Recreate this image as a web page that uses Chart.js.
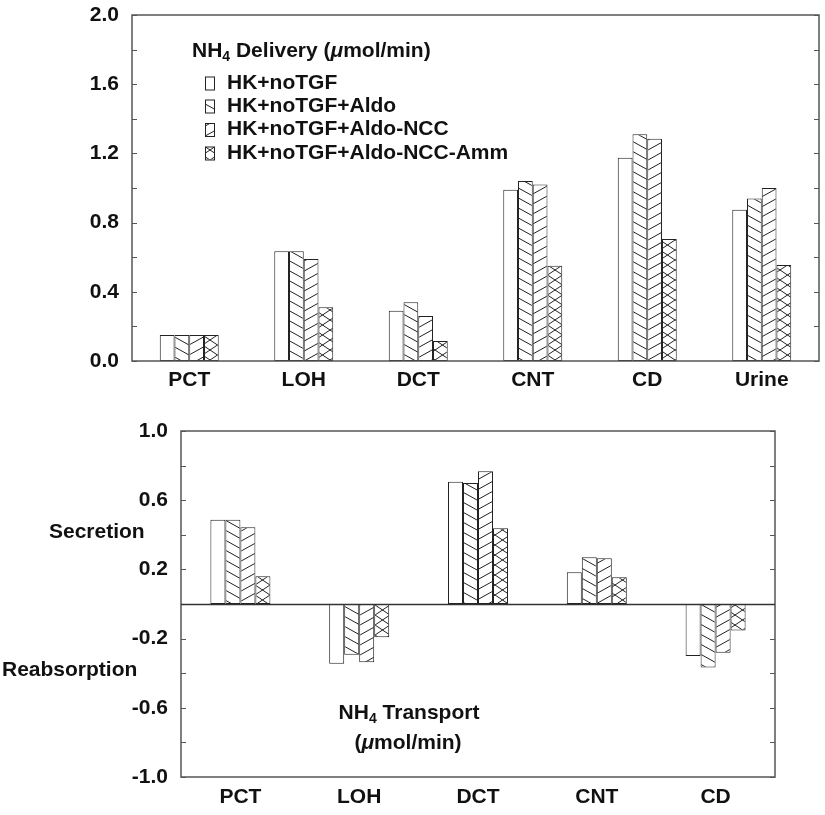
<!DOCTYPE html>
<html>
<head>
<meta charset="utf-8">
<script src="https://cdn.jsdelivr.net/npm/chart.js@4"></script>
<style>
  body { margin: 0; background: #fff; }
  #wrap { position: relative; width: 825px; height: 815px; }
  #top { position: absolute; left: 0; top: 0; }
  #bot { position: absolute; left: 0; top: 415px; }
</style>
</head>
<body>
<div id="wrap">
  <canvas id="top" width="825" height="410"></canvas>
  <canvas id="bot" width="825" height="400"></canvas>
</div>
<script>
// series names (legend)
const seriesNames = ['HK+noTGF', 'HK+noTGF+Aldo', 'HK+noTGF+Aldo-NCC', 'HK+noTGF+Aldo-NCC-Amm'];

// top panel: NH4 delivery (umol/min)
const deliveryCats = ['PCT', 'LOH', 'DCT', 'CNT', 'CD', 'Urine'];
const deliveryNoTGF   = [0.15, 0.635, 0.29, 0.99, 1.175, 0.875];
const deliveryAldo    = [0.15, 0.635, 0.34, 1.04, 1.31, 0.94];
const deliveryAldoNCC = [0.15, 0.59, 0.26, 1.02, 1.285, 1.00];
const deliveryAmm     = [0.15, 0.31, 0.115, 0.55, 0.705, 0.555];

// bottom panel: NH4 transport (umol/min), + = secretion, - = reabsorption
const transportCats = ['PCT', 'LOH', 'DCT', 'CNT', 'CD'];
const transportNoTGF   = [0.487, -0.346, 0.706, 0.184, -0.30];
const transportAldo    = [0.487, -0.294, 0.70, 0.27, -0.367];
const transportAldoNCC = [0.444, -0.336, 0.768, 0.265, -0.282];
const transportAmm     = [0.16, -0.192, 0.438, 0.155, -0.153];

const FONT = '"Liberation Sans", Arial, Helvetica, sans-serif';
const INK = '#111';
const FRAME = '#555';

Chart.defaults.font.family = FONT;
Chart.defaults.font.weight = 'bold';
Chart.defaults.font.size = 21;
Chart.defaults.color = INK;

// hatch fills like the old b/w plot
function hatch(ctx, w, h, back, fwd) {
  const c = document.createElement('canvas');
  c.width = w; c.height = h;
  const g = c.getContext('2d');
  g.fillStyle = '#fff';
  g.fillRect(0, 0, w, h);
  g.strokeStyle = '#222';
  g.lineWidth = 1;
  for (let k = -1; k <= 1; k++) {
    if (back) { g.beginPath(); g.moveTo(0, k * h); g.lineTo(w, h + k * h); g.stroke(); }
    if (fwd)  { g.beginPath(); g.moveTo(0, h + k * h); g.lineTo(w, k * h); g.stroke(); }
  }
  return ctx.createPattern(c, 'repeat');
}

function fills(ctx) {
  return ['#fff', hatch(ctx, 18, 10, true, false), hatch(ctx, 18, 10, false, true), hatch(ctx, 15, 10, true, true)];
}

function makeDatasets(ctx, arrays) {
  const f = fills(ctx);
  return arrays.map((d, i) => ({
    label: seriesNames[i],
    data: d,
    backgroundColor: f[i],
    borderColor: '#222',
    borderWidth: 1,
    borderSkipped: false
  }));
}

// text with subscript / italic parts
function richWidth(ctx, parts, size) {
  let w = 0;
  parts.forEach(p => {
    const s = p.sub ? Math.round(size * 0.68) : size;
    ctx.font = (p.italic ? 'italic ' : '') + 'bold ' + s + 'px ' + FONT;
    w += ctx.measureText(p.t).width;
  });
  return w;
}
function richText(ctx, x, y, parts, size, align) {
  let cx = align === 'center' ? x - richWidth(ctx, parts, size) / 2 : x;
  ctx.textAlign = 'left';
  ctx.textBaseline = 'middle';
  ctx.fillStyle = INK;
  parts.forEach(p => {
    const s = p.sub ? Math.round(size * 0.68) : size;
    ctx.font = (p.italic ? 'italic ' : '') + 'bold ' + s + 'px ' + FONT;
    ctx.fillText(p.t, cx, y + (p.sub ? size * 0.3 : 0));
    cx += ctx.measureText(p.t).width;
  });
}

// box around the plot, small inward ticks on both sides, zero line
const framePlugin = {
  id: 'frame',
  afterDatasetsDraw(chart) {
    const { ctx, chartArea: a, scales: { y } } = chart;
    ctx.save();
    ctx.strokeStyle = FRAME;
    ctx.lineWidth = 1.5;
    ctx.strokeRect(a.left, a.top, a.right - a.left, a.bottom - a.top);
    ctx.lineWidth = 1;
    y.ticks.forEach(t => {
      const py = Math.round(y.getPixelForValue(t.value)) + 0.5;
      ctx.beginPath();
      ctx.moveTo(a.left, py); ctx.lineTo(a.left + 5, py);
      ctx.moveTo(a.right - 5, py); ctx.lineTo(a.right, py);
      ctx.stroke();
    });
    if (y.min < 0) {
      const z = Math.round(y.getPixelForValue(0)) + 0.5;
      ctx.strokeStyle = '#333';
      ctx.lineWidth = 1.5;
      ctx.beginPath(); ctx.moveTo(a.left, z); ctx.lineTo(a.right, z); ctx.stroke();
    }
    ctx.restore();
  }
};

function baseOptions(ymin, ymax, padding, xHeight, tickPad) {
  return {
    responsive: false,
    animation: false,
    events: [],
    layout: { padding: padding },
    plugins: { legend: { display: false }, tooltip: { enabled: false } },
    datasets: { bar: { categoryPercentage: 0.515, barPercentage: 1 } },
    scales: {
      x: {
        offset: true,
        grid: { display: false, drawTicks: false },
        border: { display: false },
        ticks: { padding: tickPad, color: INK },
        afterFit: s => { s.height = xHeight; s.paddingLeft = 0; s.paddingRight = 0; }
      },
      y: {
        min: ymin, max: ymax,
        grid: { display: false, drawTicks: false },
        border: { display: false },
        ticks: {
          stepSize: 0.2, autoSkip: false, padding: 13, color: INK,
          callback: (v, i) => (i % 2 === 0 ? Number(v).toFixed(1) : '')
        },
        afterFit: s => { s.width = 52; s.paddingTop = 0; s.paddingBottom = 0; }
      }
    }
  };
}

// ---- top chart: delivery ----
const topCtx = document.getElementById('top').getContext('2d');
const legendPlugin = {
  id: 'deliveryLegend',
  afterDraw(chart) {
    const ctx = chart.ctx;
    ctx.save();
    richText(ctx, 192, 51, [
      { t: 'NH' }, { t: '4', sub: true }, { t: ' Delivery (' }, { t: 'μ', italic: true }, { t: 'mol/min)' }
    ], 21);
    const rows = [83, 106, 129.5, 153];
    chart.data.datasets.forEach((ds, i) => {
      ctx.fillStyle = ds.backgroundColor;
      ctx.fillRect(205, rows[i] - 6.5, 9, 13);
      ctx.strokeStyle = '#222';
      ctx.lineWidth = 1;
      ctx.strokeRect(205.5, rows[i] - 6, 9, 13);
      richText(ctx, 227, rows[i], [{ t: ds.label }], 21);
    });
    ctx.restore();
  }
};
new Chart(topCtx, {
  type: 'bar',
  data: {
    labels: deliveryCats,
    datasets: makeDatasets(topCtx, [deliveryNoTGF, deliveryAldo, deliveryAldoNCC, deliveryAmm])
  },
  options: baseOptions(0, 2, { left: 80, right: 6, top: 15, bottom: 0 }, 49, 7),
  plugins: [framePlugin, legendPlugin]
});

// ---- bottom chart: transport ----
const botCtx = document.getElementById('bot').getContext('2d');
const transportLabels = {
  id: 'transportLabels',
  afterDraw(chart) {
    const ctx = chart.ctx;
    ctx.save();
    richText(ctx, 49, 117, [{ t: 'Secretion' }], 21);
    richText(ctx, 2, 255, [{ t: 'Reabsorption' }], 21);
    richText(ctx, 409, 298, [{ t: 'NH' }, { t: '4', sub: true }, { t: ' Transport' }], 21, 'center');
    richText(ctx, 408, 328, [{ t: '(' }, { t: 'μ', italic: true }, { t: 'mol/min)' }], 21, 'center');
    ctx.restore();
  }
};
const botOpts = baseOptions(-1, 1, { left: 129, right: 50, top: 16, bottom: 0 }, 38, 8);
botOpts.datasets.bar.categoryPercentage = 0.505;
new Chart(botCtx, {
  type: 'bar',
  data: {
    labels: transportCats,
    datasets: makeDatasets(botCtx, [transportNoTGF, transportAldo, transportAldoNCC, transportAmm])
  },
  options: botOpts,
  plugins: [framePlugin, transportLabels]
});
</script>
</body>
</html>
